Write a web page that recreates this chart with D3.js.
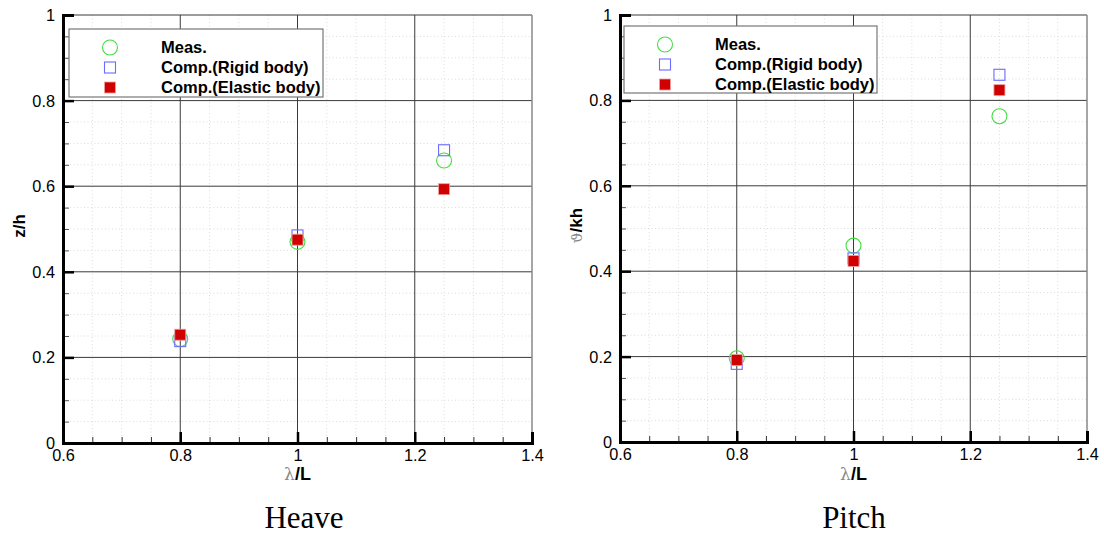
<!DOCTYPE html>
<html>
<head>
<meta charset="utf-8">
<script src="https://cdn.jsdelivr.net/npm/d3@7"></script>
<style>
  body { margin: 0; background: #fff; }
  svg { display: block; }
  .tick text { font-family: "Liberation Sans", Arial, sans-serif; font-size: 16.3px; fill: #000; }
</style>
</head>
<body>
<svg id="chart" width="1104" height="537"></svg>
<script>
// Wave-length ratios and response amplitudes
const lambdaL = [0.8, 1.0, 1.25];

const heaveMeas    = [0.243, 0.470, 0.660];
const heaveRigid   = [0.238, 0.485, 0.684];
const heaveElastic = [0.253, 0.475, 0.593];

const pitchMeas    = [0.196, 0.460, 0.763];
const pitchRigid   = [0.183, 0.430, 0.860];
const pitchElastic = [0.192, 0.424, 0.824];

const xMajor = [0.6, 0.8, 1.0, 1.2, 1.4];
const yMajor = [0, 0.2, 0.4, 0.6, 0.8, 1];
const xMinor = d3.range(0.6, 1.4001, 0.05).map(v => +v.toFixed(2));
const yMinor = d3.range(0, 1.0001, 0.05).map(v => +v.toFixed(2));

const legendLabels = ["Meas.", "Comp.(Rigid body)", "Comp.(Elastic body)"];

const svg = d3.select("#chart");

const panels = [
  { left: 63, right: 532, top: 15, bottom: 443, caption: "Heave", captionX: 304, yTitle: "z/h",
    meas: heaveMeas, rigid: heaveRigid, elastic: heaveElastic,
    legend: { x: 69, y: 29, w: 254, h: 68, mx: 41, tx: 92 } },
  { left: 620, right: 1087, top: 15, bottom: 442, caption: "Pitch", captionX: 854, yTitle: "kh",
    meas: pitchMeas, rigid: pitchRigid, elastic: pitchElastic,
    legend: { x: 624, y: 26, w: 253, h: 67, mx: 41, tx: 91 } }
];

const fmt = d => (d === 0 || d === 1) ? String(d) : d3.format(".1f")(d);

function drawMarker(g, type, cx, cy) {
  if (type === "meas") {
    g.append("circle").attr("cx", cx).attr("cy", cy).attr("r", 7.5)
      .attr("fill", "none").attr("stroke", "#44dd44").attr("stroke-width", 1.1);
  } else if (type === "rigid") {
    g.append("rect").attr("x", cx - 5.5).attr("y", cy - 5.5).attr("width", 11).attr("height", 11)
      .attr("fill", "none").attr("stroke", "#6b6bff").attr("stroke-width", 1.1);
  } else {
    g.append("rect").attr("x", cx - 5.5).attr("y", cy - 5.5).attr("width", 11).attr("height", 11)
      .attr("fill", "#d00000").attr("stroke", "#f0a0a0").attr("stroke-width", 0.8);
  }
}

panels.forEach(p => {
  const x = d3.scaleLinear().domain([0.6, 1.4]).range([p.left, p.right]);
  const y = d3.scaleLinear().domain([0, 1]).range([p.bottom, p.top]);
  const g = svg.append("g");

  // minor dotted grid
  g.append("g").selectAll("line").data(xMinor.filter(v => !xMajor.some(m => Math.abs(m - v) < 1e-6)))
    .join("line").attr("x1", d => x(d)).attr("x2", d => x(d)).attr("y1", p.top).attr("y2", p.bottom)
    .attr("stroke", "#dcdcdc").attr("stroke-width", 1).attr("stroke-dasharray", "1,2.5");
  g.append("g").selectAll("line").data(yMinor.filter(v => !yMajor.some(m => Math.abs(m - v) < 1e-6)))
    .join("line").attr("x1", p.left).attr("x2", p.right).attr("y1", d => y(d)).attr("y2", d => y(d))
    .attr("stroke", "#dcdcdc").attr("stroke-width", 1).attr("stroke-dasharray", "1,2.5");

  // major grid
  g.append("g").selectAll("line").data([0.8, 1.0, 1.2])
    .join("line").attr("x1", d => x(d)).attr("x2", d => x(d)).attr("y1", p.top).attr("y2", p.bottom)
    .attr("stroke", "#3a3a3a").attr("stroke-width", 1);
  g.append("g").selectAll("line").data([0.2, 0.4, 0.6, 0.8, 1])
    .join("line").attr("x1", p.left).attr("x2", p.right).attr("y1", d => y(d)).attr("y2", d => y(d))
    .attr("stroke", "#3a3a3a").attr("stroke-width", 1);
  g.append("line").attr("x1", x(1.4)).attr("x2", x(1.4)).attr("y1", p.top).attr("y2", p.bottom)
    .attr("stroke", "#888").attr("stroke-width", 1.5);

  // minor ticks
  const xMinAx = g.append("g").attr("transform", `translate(0,${p.bottom})`)
    .call(d3.axisBottom(x).tickValues(xMinor).tickSize(-6).tickFormat(""));
  xMinAx.select(".domain").remove();
  xMinAx.selectAll(".tick line").attr("stroke", "#333").attr("stroke-width", 1);
  const yMinAx = g.append("g").attr("transform", `translate(${p.left},0)`)
    .call(d3.axisLeft(y).tickValues(yMinor).tickSize(-6).tickFormat(""));
  yMinAx.select(".domain").remove();
  yMinAx.selectAll(".tick line").attr("stroke", "#555").attr("stroke-width", 1);

  // major axes
  const xAx = g.append("g").attr("transform", `translate(0,${p.bottom})`)
    .call(d3.axisBottom(x).tickValues(xMajor).tickSize(-11).tickPadding(6).tickFormat(fmt));
  xAx.select(".domain").attr("stroke", "#000").attr("stroke-width", 3);
  xAx.selectAll(".tick line").attr("stroke", "#000").attr("stroke-width", 2.5);
  xAx.selectAll(".tick text").attr("dy", "0.72em");

  const yAx = g.append("g").attr("transform", `translate(${p.left},0)`)
    .call(d3.axisLeft(y).tickValues(yMajor).tickSize(-11).tickPadding(8).tickFormat(fmt));
  yAx.select(".domain").attr("stroke", "#000").attr("stroke-width", 3);
  yAx.selectAll(".tick line").attr("stroke", "#000").attr("stroke-width", 2.5);
  yAx.selectAll(".tick text").attr("dy", "0.34em");

  // data markers
  const mg = g.append("g");
  lambdaL.forEach((l, i) => drawMarker(mg, "meas", x(l), y(p.meas[i])));
  lambdaL.forEach((l, i) => drawMarker(mg, "rigid", x(l), y(p.rigid[i])));
  lambdaL.forEach((l, i) => drawMarker(mg, "elastic", x(l), y(p.elastic[i])));

  // legend
  const L = p.legend;
  const lg = g.append("g").attr("transform", `translate(${L.x},${L.y})`);
  lg.append("rect").attr("width", L.w).attr("height", L.h)
    .attr("fill", "#fff").attr("stroke", "#777").attr("stroke-width", 1.2);
  ["meas", "rigid", "elastic"].forEach((t, i) => {
    const cy = 18.5 + i * 20;
    drawMarker(lg, t, L.mx, cy);
    lg.append("text").attr("x", L.tx).attr("y", cy).attr("dy", "0.36em")
      .attr("font-family", "Liberation Sans, Arial, sans-serif").attr("font-weight", "bold")
      .attr("font-size", 16.5).text(legendLabels[i]);
  });

  // x-axis title
  const xt = g.append("text").attr("x", (p.left + p.right) / 2).attr("y", 480)
    .attr("text-anchor", "middle").attr("font-size", 18);
  xt.append("tspan").attr("font-family", "DejaVu Serif, serif").attr("fill", "#888")
    .attr("font-size", 17).text("λ");
  xt.append("tspan").attr("font-family", "Liberation Sans, Arial, sans-serif")
    .attr("font-weight", "bold").text("/L");

  // y-axis title
  const yt = g.append("text").attr("transform", `translate(${p.left - 38},${(p.top + p.bottom) / 2 - 3}) rotate(-90)`)
    .attr("text-anchor", "middle").attr("font-size", 17);
  if (p.caption === "Pitch") {
    yt.append("tspan").attr("font-family", "DejaVu Serif, serif").attr("fill", "#888")
      .attr("font-size", 15).text("ϑ");
    yt.append("tspan").attr("font-family", "Liberation Sans, Arial, sans-serif")
      .attr("font-weight", "bold").text("/kh");
  } else {
    yt.append("tspan").attr("font-family", "Liberation Sans, Arial, sans-serif")
      .attr("font-weight", "bold").text(p.yTitle);
  }

  // caption
  g.append("text").attr("x", p.captionX).attr("y", 528)
    .attr("text-anchor", "middle").attr("font-family", "Liberation Serif, serif")
    .attr("font-size", 31).text(p.caption);
});
</script>
</body>
</html>
